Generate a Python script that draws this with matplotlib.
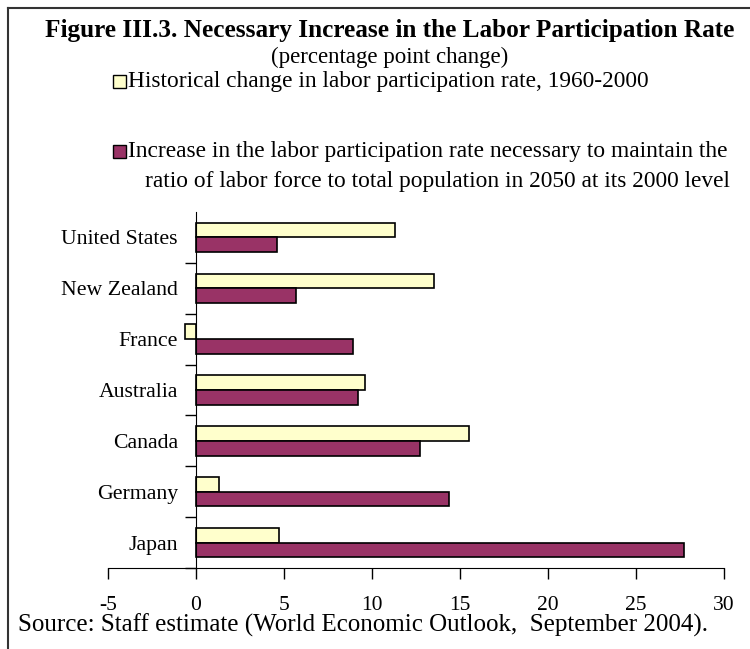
import numpy as np
import matplotlib
matplotlib.use('Agg')
import matplotlib.pyplot as plt
from matplotlib.patches import Rectangle
from matplotlib.lines import Line2D

countries = ['United States', 'New Zealand', 'France', 'Australia',
             'Canada', 'Germany', 'Japan']
historical = [11.3, 13.5, -0.6, 9.6, 15.5, 1.3, 4.7]
necessary = [4.6, 5.7, 8.9, 9.2, 12.7, 14.4, 27.7]

histLabel = 'Historical change in labor participation rate, 1960-2000'
needLabel1 = 'Increase in the labor participation rate necessary to maintain the'
needLabel2 = 'ratio of labor force to total population in 2050 at its 2000 level'

yellow = '#FFFFCC'
purple = '#993366'

plt.rcParams['font.family'] = ['Liberation Serif', 'DejaVu Serif']
plt.rcParams['axes.unicode_minus'] = False

fig = plt.figure(figsize=(7.5, 6.49), dpi=100)
W, H = 750.0, 649.0

# frame (top and left only, as in the original)
fig.lines.append(Line2D([8 / W, 1.0], [1 - 8 / H, 1 - 8 / H], transform=fig.transFigure,
                        color='#333333', lw=1.5))
fig.lines.append(Line2D([8 / W, 8 / W], [0.0, 1 - 8 / H], transform=fig.transFigure,
                        color='#333333', lw=1.5))

fig.text(390 / W, 1 - 31 / H, 'Figure III.3. Necessary Increase in the Labor Participation Rate',
         ha='center', va='center', fontsize=18.2, fontweight='bold')
fig.text(390 / W, 1 - 57 / H, '(percentage point change)', ha='center', va='center', fontsize=16.5)

# legend
def legendBox(x, y, color):
    fig.patches.append(Rectangle((x / W, 1 - (y + 7) / H), 13 / W, 13 / H,
                                 transform=fig.transFigure, facecolor=color,
                                 edgecolor='black', lw=1))

legendBox(113, 81, yellow)
fig.text(128 / W, 1 - 81 / H, histLabel, ha='left', va='center', fontsize=16.8)
legendBox(113, 151, purple)
fig.text(128 / W, 1 - 151 / H, needLabel1, ha='left', va='center', fontsize=16.8)
fig.text(145 / W, 1 - 182 / H, needLabel2, ha='left', va='center', fontsize=16.8)

ax = fig.add_axes([108 / W, 1 - 568 / H, (724 - 108) / W, (568 - 212) / H])
y = np.arange(len(countries))
bh = 0.29
ax.barh(y - bh / 2, historical, height=bh, color=yellow, edgecolor='black', lw=1.2)
ax.barh(y + bh / 2, necessary, height=bh, color=purple, edgecolor='black', lw=1.2)

ax.set_xlim(-5, 30)
ax.set_ylim(len(countries) - 0.5, -0.5)
ax.set_xticks(np.arange(-5, 31, 5))
ax.tick_params(axis='x', direction='out', length=8, width=1, labelsize=15.5, pad=12)

ax.spines['left'].set_position(('data', 0))
ax.spines['top'].set_visible(False)
ax.spines['right'].set_visible(False)
ax.set_yticks(np.arange(1, len(countries) + 1) - 0.5)
ax.set_yticklabels([])
ax.set_yticks(y, minor=True)
ax.set_yticklabels(countries, minor=True, fontsize=15.7)
ax.tick_params(axis='y', which='major', direction='out', length=8, width=1)
ax.tick_params(axis='y', which='minor', length=0, pad=13)

fig.text(18 / W, 1 - 625 / H, 'Source: Staff estimate (World Economic Outlook,  September 2004).',
         ha='left', va='center', fontsize=18)

fig.savefig('out.png', dpi=100)
